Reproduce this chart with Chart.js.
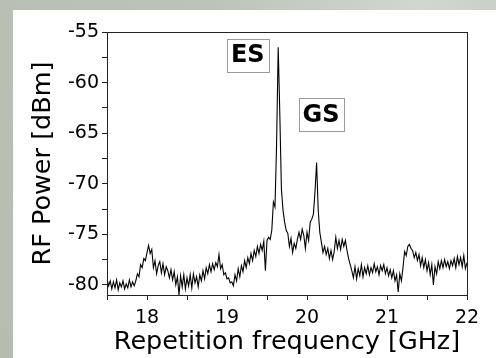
<!DOCTYPE html>
<html>
<head>
<meta charset="utf-8">
<script src="https://cdn.jsdelivr.net/npm/chart.js@4"></script>
<style>
  html, body { margin: 0; padding: 0; }
  body {
    width: 496px; height: 358px; overflow: hidden;
    background: radial-gradient(ellipse at 85% 0%, #d2d7cf 0%, #bcc4b9 35%, #b5bdb2 100%);
  }
  #panel {
    position: absolute; left: 13px; top: 10px;
    width: 483px; height: 348px; background: #fff;
  }
</style>
</head>
<body>
<div id="panel"><canvas id="chart1"></canvas></div>
<script>
// RF spectrum, frequency in GHz
const freqGHz = [
  17.50,17.52,17.54,17.56,17.58,17.60,17.62,17.64,17.66,17.68,
  17.70,17.72,17.74,17.76,17.78,17.80,17.82,17.84,17.86,17.88,
  17.90,17.92,17.94,17.96,17.98,18.00,18.02,18.04,18.06,18.08,
  18.10,18.12,18.14,18.16,18.18,18.20,18.22,18.24,18.26,18.28,
  18.30,18.32,18.34,18.36,18.38,18.40,18.42,18.44,18.46,18.48,
  18.50,18.52,18.54,18.56,18.58,18.60,18.62,18.64,18.66,18.68,
  18.70,18.72,18.74,18.76,18.78,18.80,18.82,18.84,18.86,18.88,
  18.90,18.92,18.94,18.96,18.98,19.00,19.02,19.04,19.06,19.08,
  19.10,19.12,19.14,19.16,19.18,19.20,19.22,19.24,19.26,19.28,
  19.30,19.32,19.34,19.36,19.38,19.40,19.42,19.44,19.46,19.48,
  19.50,19.52,19.54,19.56,19.58,19.60,19.62,19.64,19.66,19.68,
  19.70,19.72,19.74,19.76,19.78,19.80,19.82,19.84,19.86,19.88,
  19.90,19.92,19.94,19.96,19.98,20.00,20.02,20.04,20.06,20.08,
  20.10,20.12,20.14,20.16,20.18,20.20,20.22,20.24,20.26,20.28,
  20.30,20.32,20.34,20.36,20.38,20.40,20.42,20.44,20.46,20.48,
  20.50,20.52,20.54,20.56,20.58,20.60,20.62,20.64,20.66,20.68,
  20.70,20.72,20.74,20.76,20.78,20.80,20.82,20.84,20.86,20.88,
  20.90,20.92,20.94,20.96,20.98,21.00,21.02,21.04,21.06,21.08,
  21.10,21.12,21.14,21.16,21.18,21.20,21.22,21.24,21.26,21.28,
  21.30,21.32,21.34,21.36,21.38,21.40,21.42,21.44,21.46,21.48,
  21.50,21.52,21.54,21.56,21.58,21.60,21.62,21.64,21.66,21.68,
  21.70,21.72,21.74,21.76,21.78,21.80,21.82,21.84,21.86,21.88,
  21.90,21.92,21.94,21.96,21.98,22.00
];

// measured power in dBm
const powerDbm = [
  -79.4,-80.1,-79.6,-80.4,-79.7,-80.3,-79.5,-80.5,-79.8,-80.2,
  -79.6,-80.4,-79.9,-80.3,-79.5,-80.2,-79.7,-80.1,-79.6,-78.9,
  -79.2,-78.0,-78.3,-77.4,-77.6,-76.8,-76.1,-76.9,-76.5,-78.3,
  -77.6,-78.9,-78.1,-77.7,-78.8,-77.9,-79.0,-78.2,-78.6,-79.3,
  -78.5,-79.5,-78.7,-80.0,-79.2,-81.0,-79.1,-80.2,-79.0,-80.4,
  -79.3,-80.1,-79.0,-80.3,-78.9,-79.8,-79.2,-80.2,-79.0,-79.6,
  -78.6,-79.4,-78.3,-78.9,-78.0,-78.7,-77.9,-78.5,-77.8,-78.2,
  -77.0,-78.4,-78.0,-79.0,-78.8,-79.4,-79.3,-79.8,-79.7,-80.1,
  -79.0,-79.6,-78.4,-79.2,-78.1,-78.7,-77.6,-78.3,-77.3,-77.9,
  -76.9,-77.6,-76.6,-77.2,-76.2,-76.9,-76.0,-76.6,-75.7,-78.6,
  -75.6,-75.3,-75.5,-74.6,-71.8,-72.3,-66.0,-56.5,-63.0,-70.5,
  -72.6,-73.8,-74.6,-74.9,-76.2,-75.4,-76.8,-75.9,-76.4,-75.5,
  -74.8,-75.5,-74.5,-75.1,-76.4,-74.8,-75.6,-73.8,-73.5,-73.0,
  -70.8,-67.9,-72.6,-74.8,-75.8,-76.8,-76.2,-77.0,-76.4,-77.4,
  -76.6,-77.5,-76.7,-75.3,-76.4,-75.6,-76.5,-75.5,-76.2,-75.6,
  -76.6,-77.4,-78.0,-78.6,-79.3,-78.2,-79.4,-78.4,-79.1,-78.0,
  -79.2,-78.3,-78.9,-78.1,-79.0,-78.3,-78.8,-77.9,-78.7,-78.2,
  -79.0,-78.1,-78.6,-78.0,-78.9,-78.3,-79.1,-78.5,-79.3,-78.6,
  -79.6,-79.0,-80.7,-78.9,-79.6,-78.3,-76.7,-77.1,-76.2,-76.0,
  -76.4,-76.6,-77.3,-76.8,-77.6,-77.0,-78.1,-77.3,-78.3,-77.5,
  -78.6,-77.8,-79.0,-78.0,-80.0,-78.2,-78.9,-77.7,-78.4,-77.6,
  -78.3,-77.5,-78.2,-77.7,-78.4,-77.6,-78.1,-77.4,-78.3,-77.2,
  -78.0,-77.3,-78.2,-77.1,-78.4,-77.8
];

// peak labels and where they sit (data coords)
const peakLabels = ['ES', 'GS'];
const peakLabelX = [19.26, 20.175];
const peakLabelY = [-57.3, -63.15];

const axisColor = '#222';
const fontFamily = '"DejaVu Sans", Arial, sans-serif';

function keepSteps(step) {
  return function(scale) {
    scale.ticks = scale.ticks.filter(t => Math.abs(t.value / step - Math.round(t.value / step)) < 1e-6);
  };
}

// frame around the plot + boxed labels
const framePlugin = {
  id: 'frame',
  afterDatasetsDraw(chart) {
    const ctx = chart.ctx;
    const a = chart.chartArea;
    ctx.save();
    ctx.strokeStyle = axisColor;
    ctx.lineWidth = 1;
    ctx.strokeRect(Math.round(a.left) + 0.5, Math.round(a.top) + 0.5,
                   Math.round(a.right - a.left), Math.round(a.bottom - a.top));

    ctx.font = 'bold 24px ' + fontFamily;
    ctx.textAlign = 'center';
    ctx.textBaseline = 'middle';
    peakLabels.forEach((txt, i) => {
      const cx = chart.scales.x.getPixelForValue(peakLabelX[i]);
      const cy = chart.scales.y.getPixelForValue(peakLabelY[i]);
      const w = ctx.measureText(txt).width + 8;
      const h = 33;
      ctx.fillStyle = '#fff';
      ctx.fillRect(cx - w / 2, cy - h / 2, w, h);
      ctx.strokeStyle = '#9a9a9a';
      ctx.strokeRect(Math.round(cx - w / 2) + 0.5, Math.round(cy - h / 2) + 0.5, Math.round(w), h);
      ctx.fillStyle = '#000';
      ctx.fillText(txt, cx, cy + 1);
    });
    ctx.restore();
  }
};

document.addEventListener("DOMContentLoaded", function() {
  const ctx = document.getElementById('chart1');
  const points = freqGHz.map((f, i) => ({ x: f, y: powerDbm[i] }));

  new Chart(ctx, {
    type: 'line',
    data: {
      datasets: [{
        data: points,
        borderColor: '#000',
        borderWidth: 1.1,
        pointRadius: 0,
        tension: 0,
        fill: false
      }]
    },
    options: {
      responsive: true,
      maintainAspectRatio: false,
      animation: false,
      events: [],
      layout: { padding: { left: 15, top: 22, right: 29, bottom: 0 } },
      plugins: { legend: { display: false }, tooltip: { enabled: false } },
      scales: {
        x: {
          type: 'linear',
          min: 17.5,
          max: 22,
          afterBuildTicks: keepSteps(0.5),
          afterFit: s => { s.height = 63; },
          border: { color: axisColor, width: 1 },
          grid: { drawOnChartArea: false, tickLength: 5, color: axisColor },
          ticks: {
            stepSize: 0.5,
            includeBounds: false,
            autoSkip: false,
            maxRotation: 0,
            padding: 7,
            color: '#000',
            font: { family: fontFamily, size: 19 },
            callback: v => (Math.abs(v - Math.round(v)) < 1e-6 ? String(Math.round(v)) : '')
          },
          title: {
            display: true,
            text: 'Repetition frequency [GHz]',
            color: '#000',
            font: { family: fontFamily, size: 25.5 },
            padding: { top: 0, bottom: 0 }
          }
        },
        y: {
          min: -81,
          max: -55,
          afterBuildTicks: keepSteps(2.5),
          afterFit: s => { s.width = 79; },
          border: { color: axisColor, width: 1 },
          grid: { drawOnChartArea: false, tickLength: 5, color: axisColor },
          ticks: {
            stepSize: 2.5,
            includeBounds: false,
            autoSkip: false,
            padding: 3,
            color: '#000',
            font: { family: fontFamily, size: 19 },
            callback: v => (Math.abs(v / 5 - Math.round(v / 5)) < 1e-6 ? String(Math.round(v)) : '')
          },
          title: {
            display: true,
            text: 'RF Power [dBm]',
            color: '#000',
            font: { family: fontFamily, size: 25.5 },
            padding: { top: 0, bottom: 0 }
          }
        }
      }
    },
    plugins: [framePlugin]
  });
});
</script>
</body>
</html>
